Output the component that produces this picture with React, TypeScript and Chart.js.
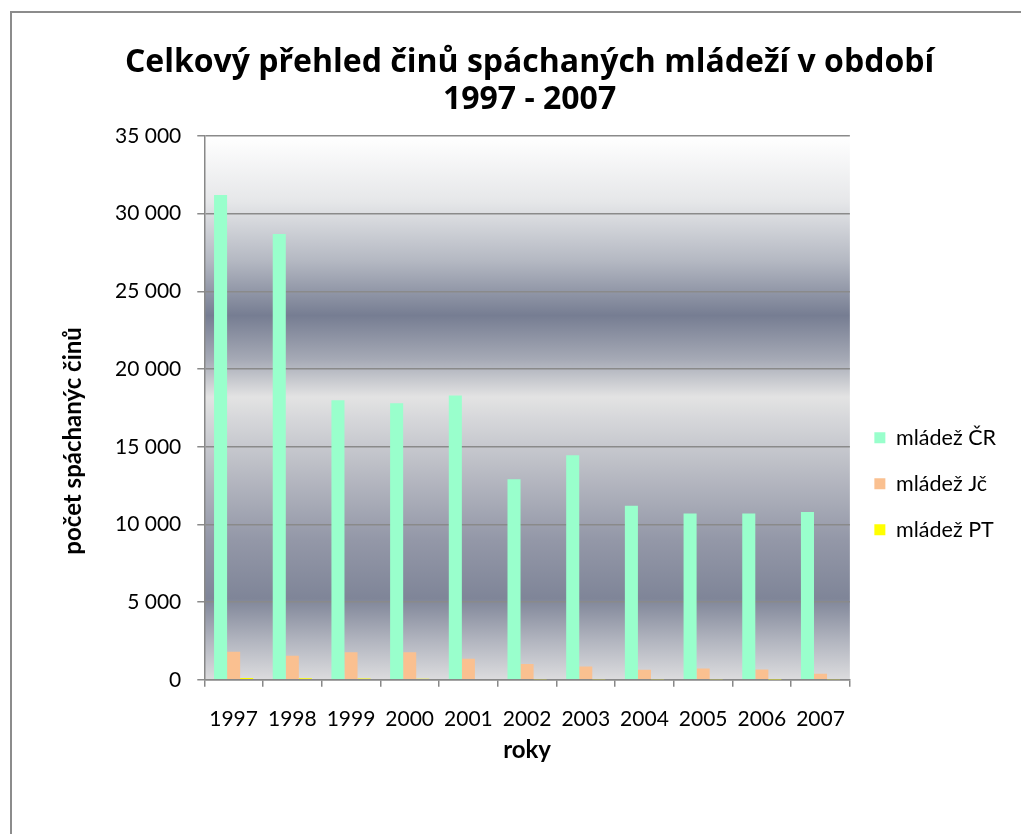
import React, { useEffect, useRef } from "react";
import { Chart, registerables } from "chart.js";

Chart.register(...registerables);

const categories = ["1997", "1998", "1999", "2000", "2001", "2002", "2003", "2004", "2005", "2006", "2007"];
const mladezCR = [31200, 28700, 18000, 17800, 18300, 12900, 14450, 11200, 10700, 10700, 10800];
const mladezJc = [1800, 1550, 1770, 1770, 1360, 1020, 850, 650, 730, 670, 390];
const mladezPT = [110, 100, 80, 70, 50, 40, 40, 30, 30, 20, 30];
const seriesNames = ["mládež ČR", "mládež Jč", "mládež PT"];
const seriesColors = ["#99FFCC", "#FAC090", "#FFFF00"];
const titleLines = ["Celkový přehled činů spáchaných mládeží v období", "1997 - 2007"];
const yAxisTitle = "počet spáchanýc činů";
const xAxisTitle = "roky";

const fmt = (v: number) => String(v).replace(/\B(?=(\d{3})+(?!\d))/g, " ");

const bgPlugin = {
  id: "plotBg",
  beforeDraw(chart: any) {
    const { ctx, chartArea } = chart;
    if (!chartArea) return;
    const { left, top, right, bottom } = chartArea;
    const g = ctx.createLinearGradient(0, top, 0, bottom);
    g.addColorStop(0.0, "#ffffff");
    g.addColorStop(0.12, "#e6e7e9");
    g.addColorStop(0.23, "#b4b8c2");
    g.addColorStop(0.33, "#767d92");
    g.addColorStop(0.41, "#a5a9b5");
    g.addColorStop(0.48, "#e3e3e3");
    g.addColorStop(0.52, "#d6d7da");
    g.addColorStop(0.61, "#bbbdc5");
    g.addColorStop(0.74, "#9498a8");
    g.addColorStop(0.85, "#7f8598");
    g.addColorStop(0.93, "#b3b6c0");
    g.addColorStop(1.0, "#dcdcde");
    ctx.save();
    ctx.fillStyle = g;
    ctx.fillRect(left, top, right - left, bottom - top);
    ctx.restore();
  },
};

const textPlugin = {
  id: "chartTexts",
  afterDraw(chart: any) {
    const { ctx, chartArea } = chart;
    if (!chartArea) return;
    const { left, top, right, bottom } = chartArea;
    const cx = (left + right) / 2;
    ctx.save();
    ctx.fillStyle = "#000";
    ctx.textAlign = "center";
    ctx.textBaseline = "middle";
    ctx.font = "bold 32px 'Open Sans'";
    ctx.fillText(titleLines[0], cx + 2.5, top - 73);
    ctx.fillText(titleLines[1], cx + 2.5, top - 36);
    ctx.font = "bold 24px Lato";
    ctx.fillText(xAxisTitle, cx, bottom + 70);
    ctx.translate(left - 131, (top + bottom) / 2 + 33);
    ctx.rotate(-Math.PI / 2);
    ctx.fillText(yAxisTitle, 0, 0);
    ctx.restore();
  },
};

export default function App() {
  const ref = useRef<HTMLCanvasElement | null>(null);
  useEffect(() => {
    if (!ref.current) return;
    const data = [mladezCR, mladezJc, mladezPT];
    const chart = new Chart(ref.current, {
      type: "bar",
      data: {
        labels: categories,
        datasets: data.map((d, i) => ({
          label: seriesNames[i],
          data: d,
          backgroundColor: seriesColors[i],
          borderWidth: 0,
          categoryPercentage: 0.667,
          barPercentage: 1.0,
        })),
      },
      options: {
        animation: false,
        responsive: false,
        maintainAspectRatio: false,
        layout: { padding: { left: 87, right: 15, top: 123, bottom: 82 } },
        plugins: {
          title: { display: false },
          legend: {
            position: "right",
            align: "start",
            title: { display: true, text: " ", padding: 126, font: { size: 12 } },
            labels: {
              boxWidth: 11,
              boxHeight: 11,
              padding: 24.5,
              color: "#000",
              font: { family: "Lato", size: 21.5 },
            },
          },
          tooltip: { enabled: false },
        },
        scales: {
          x: {
            grid: { drawOnChartArea: false, drawTicks: true, tickLength: 7, color: "#888", lineWidth: 1.5 },
            border: { color: "#888", width: 1.5 },
            ticks: { color: "#000", font: { family: "Lato", size: 21 }, padding: 20, maxRotation: 0, autoSkip: false },
          },
          y: {
            min: 0,
            max: 35000,
            ticks: { stepSize: 5000, color: "#000", font: { family: "Lato", size: 21 }, padding: 16, callback: (v: any) => fmt(Number(v)) },
            grid: { color: "#8a8a8a", lineWidth: 1.5, tickLength: 7 },
            border: { color: "#888", width: 1.5 },
          },
        },
      },
      plugins: [bgPlugin, textPlugin],
    });
    return () => chart.destroy();
  }, []);
  return (
    <div
      style={{
        position: "fixed",
        left: 10,
        top: 11,
        width: 1011,
        height: 823,
        borderLeft: "2px solid #8c8c8c",
        borderTop: "2px solid #8c8c8c",
        background: "#fff",
        boxSizing: "border-box",
        overflow: "hidden",
      }}
    >
      <canvas ref={ref} width={1009} height={821} style={{ display: "block" }} />
    </div>
  );
}
